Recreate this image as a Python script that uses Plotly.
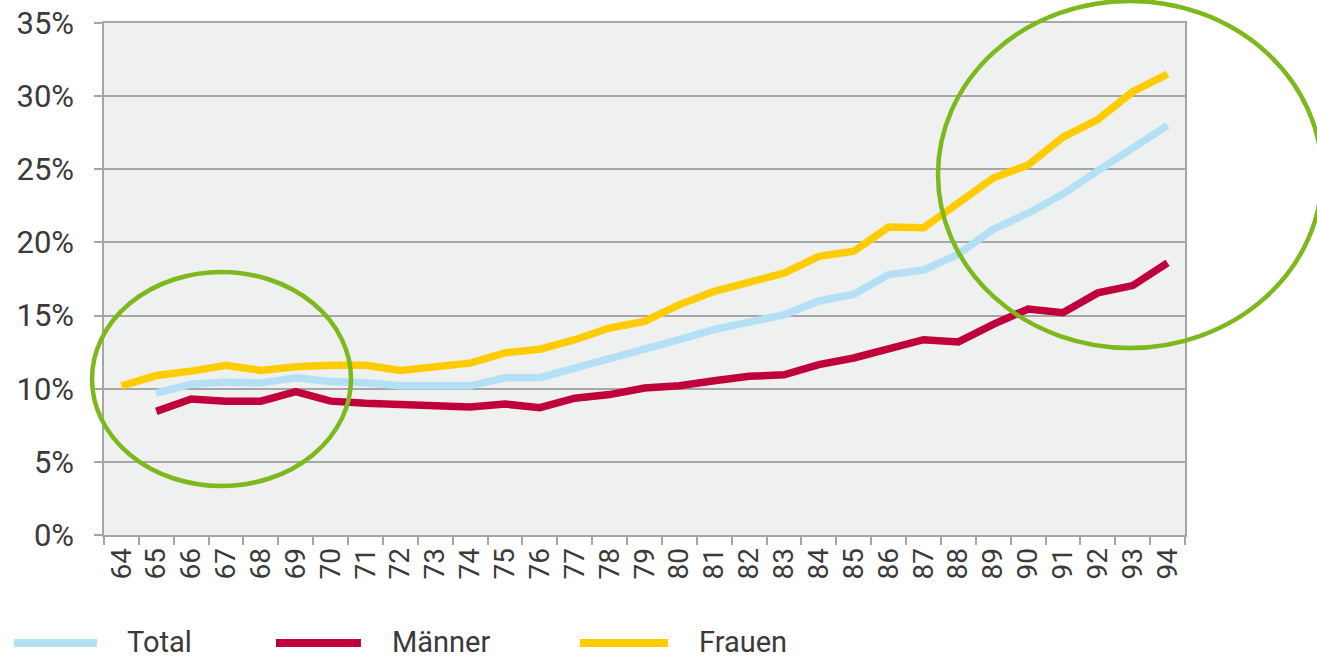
import plotly.graph_objects as go

categories = [str(v) for v in range(64, 95)]

total = [None, 9.7, 10.3, 10.45, 10.4, 10.75, 10.5, 10.4, 10.2, 10.2, 10.2, 10.75, 10.75, 11.4, 12.1,
         12.7, 13.35, 14.05, 14.55, 15.05, 16.0, 16.45, 17.8, 18.1, 19.2, 20.9, 22.0, 23.3, 24.9, 26.5, 28.0]
maenner = [None, 8.45, 9.3, 9.15, 9.15, 9.8, 9.15, 9.0, 8.9, 8.75, 8.75, 8.95, 8.7, 9.35, 9.6,
           10.05, 10.2, 10.55, 10.85, 10.95, 11.65, 12.1, 12.75, 13.35, 13.2, 14.4, 15.45, 15.2, 16.55, 17.05, 18.6]
frauen = [10.2, 10.9, 11.2, 11.6, 11.25, 11.5, 11.6, 11.6, 11.25, 11.55, 11.75, 12.45, 12.7, 13.35, 14.15,
          14.6, 15.75, 16.65, 17.25, 17.9, 19.05, 19.4, 21.05, 21.0, 22.7, 24.4, 25.3, 27.2, 28.4, 30.3, 31.5]

y_ticks = [0, 5, 10, 15, 20, 25, 30, 35]
y_labels = [f"{v}%" for v in y_ticks]

series_names = ["Total", "Männer", "Frauen"]
series_colors = ["#b3e0f5", "#c0003c", "#ffcc00"]

fig = go.Figure()
for name, vals, col in zip(series_names, [total, maenner, frauen], series_colors):
    fig.add_trace(go.Scatter(x=categories, y=vals, name=name, mode="lines",
                             line=dict(color=col, width=7.5), showlegend=False))

font_family = "Roboto"
text_color = "#3a3a3a"
grid_color = "#a6a6a6"

fig.update_layout(
    width=1317, height=659,
    margin=dict(l=104, r=132, t=23, b=124, autoexpand=False),
    paper_bgcolor="white",
    plot_bgcolor="#eff0f0",
    font=dict(family=font_family, color=text_color),
    xaxis=dict(type="category", categoryorder="array", categoryarray=categories,
               tickangle=-90, tickson="boundaries", ticks="outside", ticklen=8,
               tickcolor=grid_color, tickwidth=1.5, showgrid=False, automargin=False,
               showline=True, linecolor=grid_color, linewidth=1.5, mirror=True,
               tickfont=dict(size=28, family=font_family, color=text_color),
               range=[-0.5, len(categories) - 0.5]),
    yaxis=dict(range=[0, 35], tickvals=y_ticks, ticktext=y_labels, automargin=False,
               ticks="outside", ticklen=8, tickcolor=grid_color, tickwidth=1.5,
               showgrid=True, gridcolor=grid_color, gridwidth=1.5,
               showline=True, linecolor=grid_color, linewidth=1.5, mirror=True,
               zeroline=False, ticklabelstandoff=14, ticklabeloverflow="allow",
               tickfont=dict(size=31, family=font_family, color=text_color)),
)

# highlight ellipses
green = "#7db81c"
fig.add_shape(type="circle", xref="paper", yref="paper",
              x0=-0.0111, x1=0.2285, y0=0.0957, y1=0.5137,
              line=dict(color=green, width=4.5), layer="above")
fig.add_shape(type="circle", xref="paper", yref="paper",
              x0=0.7715, x1=1.1267, y0=0.3652, y1=1.043,
              line=dict(color=green, width=4.5), layer="above")

# custom legend
leg_y = -0.211
legend_items = [
    ("Total", series_colors[0], -0.0833, -0.0065, 0.0194),
    ("Männer", series_colors[1], 0.1591, 0.2377, 0.2646),
    ("Frauen", series_colors[2], 0.4403, 0.5217, 0.5486),
]
for label, col, lx0, lx1, tx in legend_items:
    fig.add_shape(type="line", xref="paper", yref="paper", x0=lx0, x1=lx1, y0=leg_y, y1=leg_y,
                  line=dict(color=col, width=8))
    fig.add_annotation(text=label, xref="paper", yref="paper", x=tx, y=leg_y + 0.002,
                       xanchor="left", yanchor="middle", showarrow=False,
                       font=dict(size=29, family=font_family, color=text_color))

fig.write_html("out.html", config={"displayModeBar": False},
               post_script="document.body.style.margin='0';document.body.style.overflow='hidden';")
